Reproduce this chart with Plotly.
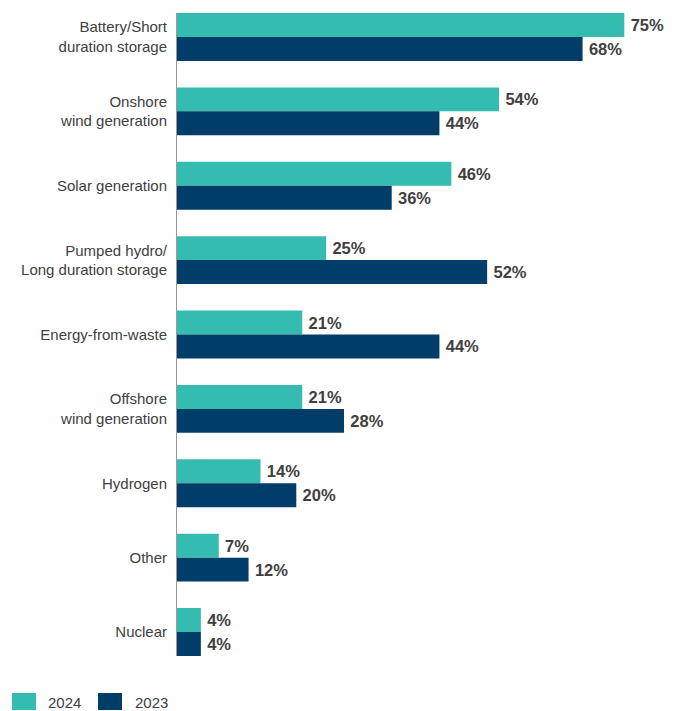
import plotly.graph_objects as go

categories = ["Battery/Short<br>duration storage", "Onshore<br>wind generation", "Solar generation",
              "Pumped hydro/<br>Long duration storage", "Energy-from-waste", "Offshore<br>wind generation",
              "Hydrogen", "Other", "Nuclear"]
values_2024 = [75, 54, 46, 25, 21, 21, 14, 7, 4]
values_2023 = [68, 44, 36, 52, 44, 28, 20, 12, 4]
series_names = ["2024", "2023"]

TEAL = "#35BCB0"
NAVY = "#003D68"
TXT = "#404040"
FONT = "Liberation Sans, Arial, sans-serif"

OFF = 8  # browser body margin
W, H = 678 - OFF, 711 - OFF
ML, MR, MT, MB = 177 - OFF, 0, 13 - OFF, 55
pos = list(range(len(categories)))
half = 0.3226

fig = go.Figure()
for name, vals, col in [(series_names[0], values_2024, TEAL), (series_names[1], values_2023, NAVY)]:
    fig.add_trace(go.Bar(
        y=pos, x=vals, orientation="h", name=name, marker=dict(color=col, line=dict(width=0)),
        text=[f"\u2009{v}%" for v in vals], textposition="outside", cliponaxis=False,
        textfont=dict(family=FONT, size=16.5, color=TXT, weight="bold"),
        hoverinfo="skip", showlegend=False,
    ))

pw = W - ML - MR
ph = H - MT - MB
def px_x(p):  # page pixel -> paper
    return (p - OFF - ML) / pw
def px_y(p):
    return (H - MB - (p - OFF)) / ph

shapes = []
annotations = []
for name, col, x0, tx in [(series_names[0], TEAL, 12, 46), (series_names[1], NAVY, 98, 133)]:
    shapes.append(dict(type="rect", xref="paper", yref="paper", x0=px_x(x0), x1=px_x(x0 + 24),
                       y0=px_y(693), y1=px_y(710), fillcolor=col, line=dict(width=0)))
    annotations.append(dict(xref="paper", yref="paper", x=px_x(tx), y=px_y(702), text=name,
                            showarrow=False, xanchor="left", yanchor="middle",
                            font=dict(family=FONT, size=15, color=TXT)))

fig.update_layout(
    width=W, height=H, margin=dict(l=ML, r=MR, t=MT, b=MB),
    paper_bgcolor="white", plot_bgcolor="white",
    barmode="group", bargap=0.355, bargroupgap=0,
    shapes=shapes, annotations=annotations,
    font=dict(family=FONT, size=15, color=TXT),
    xaxis=dict(range=[0, 84], showgrid=False, zeroline=False, showticklabels=False, showline=False, fixedrange=True),
    yaxis=dict(range=[len(categories) - 1 + half, -half], tickvals=pos, ticktext=categories,
               showgrid=False, zeroline=False, showline=True, linecolor="#999999", linewidth=1,
               ticks="", ticklabelstandoff=6, tickfont=dict(size=15, color=TXT)),
)

fig.write_html("out.html")
